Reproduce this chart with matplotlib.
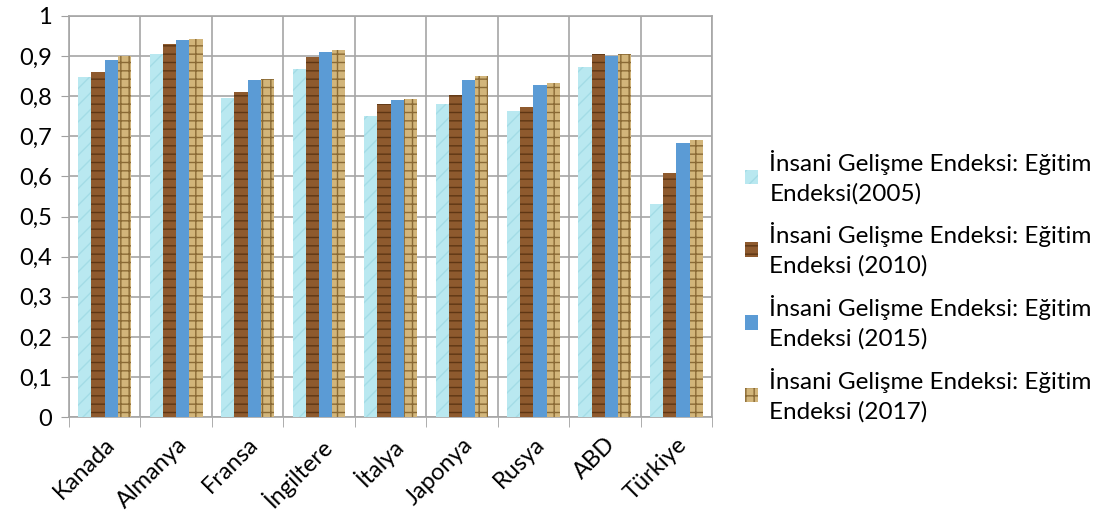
import numpy as np
import matplotlib.pyplot as plt
from matplotlib.ticker import FixedLocator, FuncFormatter

plt.rcParams['font.family'] = ['Lato', 'DejaVu Sans']

countries = ["Kanada", "Almanya", "Fransa", "İngiltere", "İtalya",
             "Japonya", "Rusya", "ABD", "Türkiye"]
egitim_2005 = [0.847, 0.905, 0.796, 0.868, 0.751, 0.781, 0.763, 0.872, 0.531]
egitim_2010 = [0.860, 0.931, 0.810, 0.898, 0.781, 0.803, 0.773, 0.905, 0.608]
egitim_2015 = [0.890, 0.941, 0.840, 0.911, 0.791, 0.840, 0.828, 0.901, 0.683]
egitim_2017 = [0.900, 0.943, 0.843, 0.915, 0.793, 0.850, 0.833, 0.905, 0.691]
labels = ["İnsani Gelişme Endeksi: Eğitim\nEndeksi(2005)",
          "İnsani Gelişme Endeksi: Eğitim\nEndeksi (2010)",
          "İnsani Gelişme Endeksi: Eğitim\nEndeksi (2015)",
          "İnsani Gelişme Endeksi: Eğitim\nEndeksi (2017)"]

fig = plt.figure(figsize=(11.11, 5.32), dpi=100)
ax = fig.add_axes([0.062, 0.216, 0.579, 0.754])

x = np.arange(len(countries))
w = 0.185
styles = [
    dict(color="#B9E8F0", edgecolor="#A3DCE6", hatch="//"),
    dict(color="#8E5A2E", edgecolor="#5E3614", hatch="--"),
    dict(color="#5B9BD5", edgecolor="#5B9BD5", hatch=""),
    dict(color="#D2B57A", edgecolor="#8A6A35", hatch="++"),
]
series = [egitim_2005, egitim_2010, egitim_2015, egitim_2017]
for i, (vals, st, lab) in enumerate(zip(series, styles, labels)):
    ax.bar(x + (i - 1.5) * w, vals, w, label=lab, color=st["color"],
           edgecolor=st["edgecolor"], hatch=st["hatch"], linewidth=0, zorder=3)

ax.set_xlim(-0.5, len(countries) - 0.5)
ax.set_ylim(0, 1)
ax.set_yticks(np.arange(0, 1.01, 0.1))
ax.yaxis.set_major_formatter(FuncFormatter(lambda v, p: ("%g" % round(v, 1)).replace(".", ",")))
ax.set_xticks(x)
ax.set_xticklabels(countries, rotation=45, ha="right", rotation_mode="anchor", fontsize=17)
ax.tick_params(axis="x", length=0, pad=12)
ax.xaxis.set_minor_locator(FixedLocator(np.arange(-0.5, len(countries), 1)))
ax.tick_params(axis="x", which="minor", length=7, color="#A0A0A0")
ax.tick_params(axis="y", labelsize=17, length=6, color="#A0A0A0", pad=6)
ax.grid(axis="y", color="#A6A6A6", linewidth=1.2, zorder=0)
ax.grid(axis="x", which="minor", color="#A6A6A6", linewidth=1.2, zorder=0)
for s in ax.spines.values():
    s.set_color("#A6A6A6")
    s.set_linewidth(1.2)

handles, labs = ax.get_legend_handles_labels()
leg = fig.legend(handles, labs, loc="center left", bbox_to_anchor=(745 / 1111, 1 - 286 / 532),
                 frameon=False, fontsize=17.5, handlelength=0.55, handleheight=0.55,
                 handletextpad=0.45, labelspacing=0.75, borderaxespad=0, borderpad=0)
for t in leg.get_texts():
    t.set_linespacing(1.45)

fig.savefig("out.png", dpi=100)
